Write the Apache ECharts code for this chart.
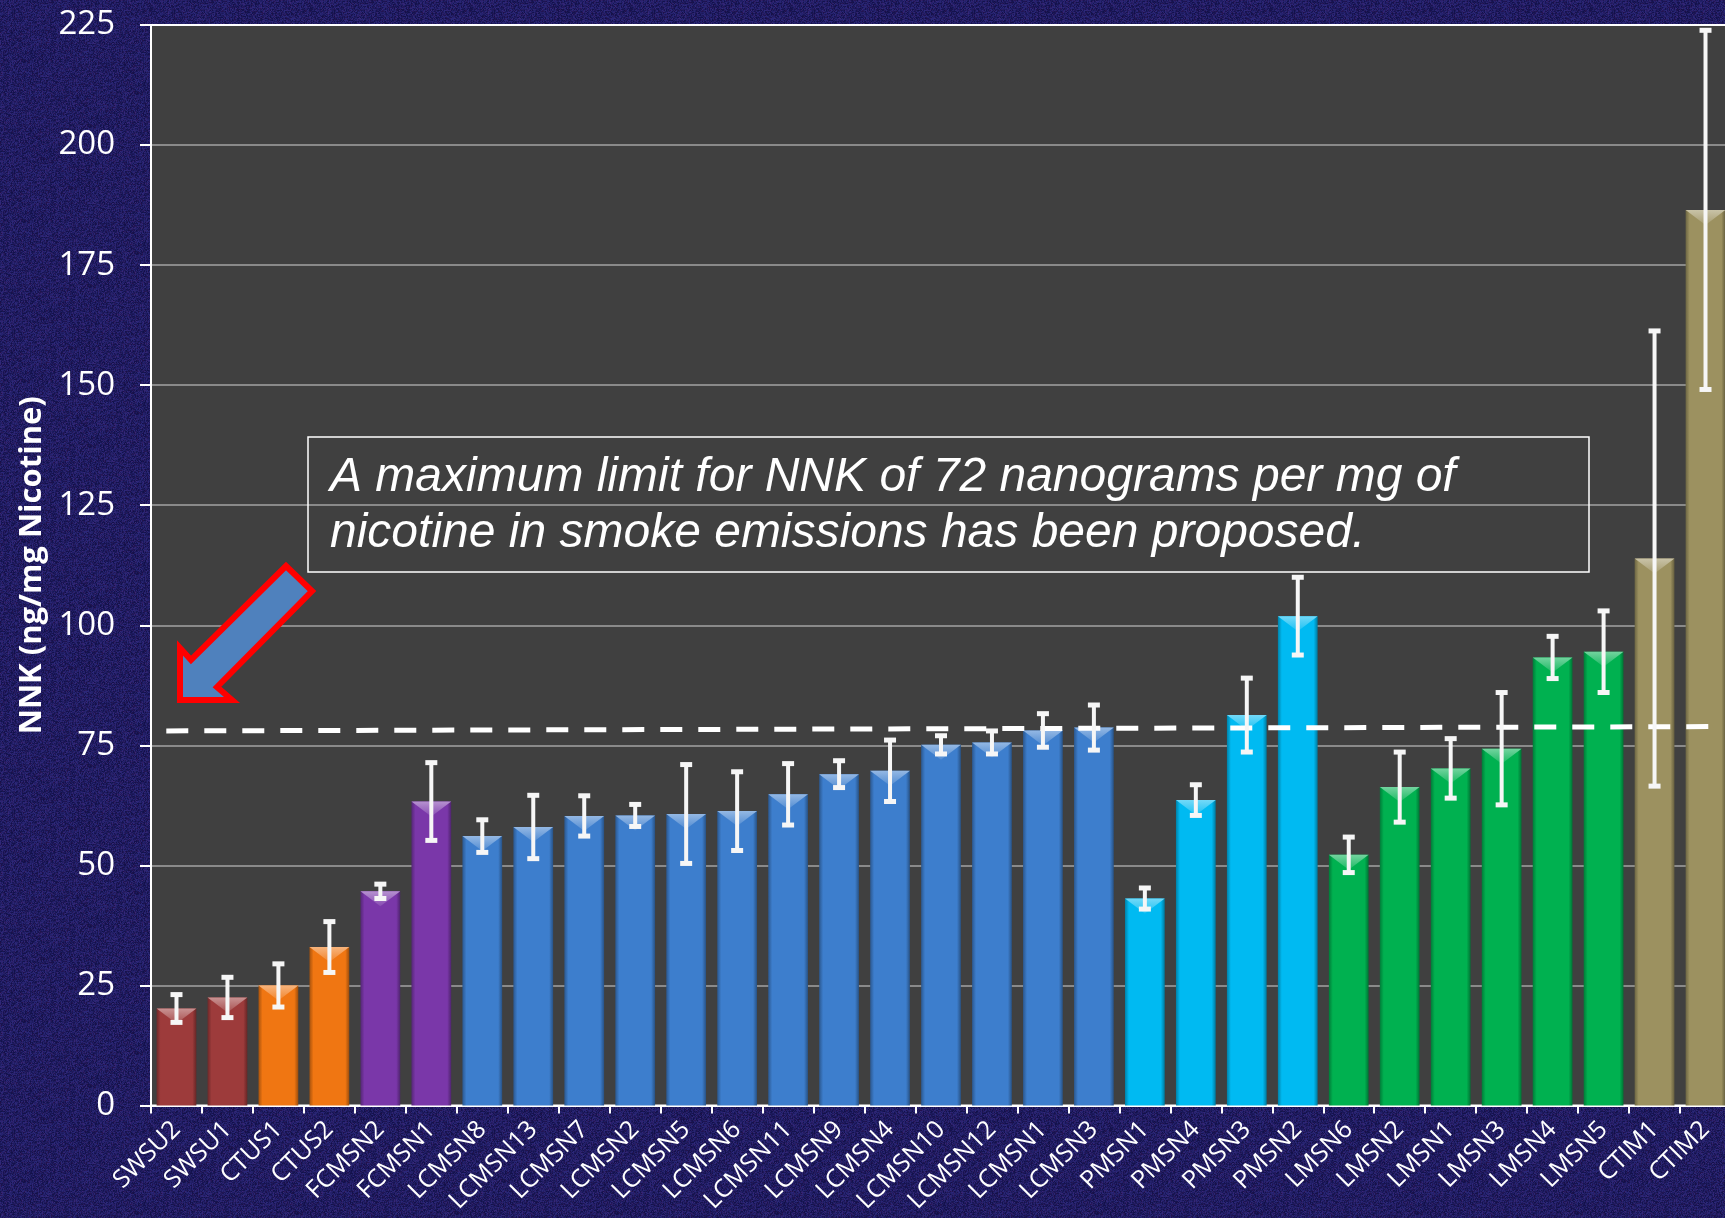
<!DOCTYPE html>
<html><head><meta charset="utf-8">
<script src="https://cdn.jsdelivr.net/npm/echarts@6/dist/echarts.min.js"></script>
<style>html,body{margin:0;padding:0;background:#1b1a60;}#c{width:1725px;height:1218px;}</style>
</head><body><div id="c"></div>
<script>
const categories = ['SWSU2','SWSU1','CTUS1','CTUS2','FCMSN2','FCMSN1','LCMSN8','LCMSN13','LCMSN7','LCMSN2','LCMSN5','LCMSN6','LCMSN11','LCMSN9','LCMSN4','LCMSN10','LCMSN12','LCMSN1','LCMSN3','PMSN1','PMSN4','PMSN3','PMSN2','LMSN6','LMSN2','LMSN1','LMSN3','LMSN4','LMSN5','CTIM1','CTIM2'];
const values = [20.2, 22.5, 25.0, 33.0, 44.6, 63.3, 56.1, 58.0, 60.3, 60.4, 60.7, 61.3, 64.8, 69.0, 69.7, 75.1, 75.6, 78.1, 78.7, 43.1, 63.6, 81.3, 101.9, 52.2, 66.3, 70.2, 74.3, 93.3, 94.5, 113.9, 186.5];
const errors = [3.0, 4.3, 4.6, 5.4, 1.6, 8.2, 3.5, 6.7, 4.3, 2.4, 10.4, 8.3, 6.5, 2.9, 6.5, 2.0, 2.5, 3.6, 4.8, 2.3, 3.3, 7.8, 8.2, 3.8, 7.4, 6.3, 11.8, 4.5, 8.6, 47.5, 37.5];
const yMin = 0, yMax = 225, yStep = 25;
const limitX = [0.3, 30.6];      // position along the category run
const limitY = [78.0, 78.9];     // hand-drawn proposed-limit line
const noteLines = ['A maximum limit for NNK of 72 nanograms per mg of', 'nicotine in smoke emissions has been proposed.'];
const yTitle = 'NNK (ng/mg Nicotine)';

const groupColors = {SWSU:'#9d3b3b', CTUS:'#f07612', FCMSN:'#7a37a9', LCMSN:'#3d7ecd', PMSN:'#00baf2', LMSN:'#00b150', CTIM:'#9c9160'};
const groupOf = n => n.replace(/\d+$/, '');

function shade(hex, f) {
  const n = parseInt(hex.slice(1), 16);
  let r = n >> 16, g = (n >> 8) & 255, b = n & 255;
  const t = f < 0 ? 0 : 255, p = Math.abs(f);
  r = Math.round((t - r) * p + r); g = Math.round((t - g) * p + g); b = Math.round((t - b) * p + b);
  return 'rgb(' + r + ',' + g + ',' + b + ')';
}

// textured navy backdrop (decorative only)
(function () {
  const cv = document.createElement('canvas'); cv.width = 160; cv.height = 160;
  const ctx = cv.getContext('2d'); const img = ctx.createImageData(160, 160);
  let s = 12345;
  const rnd = () => { s = (s * 1103515245 + 12345) & 0x7fffffff; return s / 0x7fffffff; };
  for (let i = 0; i < 160 * 160; i++) {
    const k = rnd(), h = rnd();
    img.data[i * 4] = 18 + k * 26 + (h > 0.8 ? 12 : 0);
    img.data[i * 4 + 1] = 16 + k * 24;
    img.data[i * 4 + 2] = 72 + k * 50;
    img.data[i * 4 + 3] = 255;
  }
  ctx.putImageData(img, 0, 0);
  document.getElementById('c').style.background = 'url(' + cv.toDataURL() + ')';
})();

const chart = echarts.init(document.getElementById('c'), null, {renderer: 'canvas'});
const gridBox = {left: 151, top: 25, width: 1580, height: 1080.5};
const barFrac = 0.78;

const barData = values.map((v, i) => {
  const c = groupColors[groupOf(categories[i])];
  return {
    value: v,
    itemStyle: {
      color: new echarts.graphic.LinearGradient(0, 0, 1, 0, [
        {offset: 0, color: shade(c, -0.3)},
        {offset: 0.1, color: c},
        {offset: 0.9, color: c},
        {offset: 1, color: shade(c, -0.35)}
      ])
    }
  };
});
const errData = values.map((v, i) => [i, v, errors[i]]);

const option = {
  backgroundColor: 'transparent',
  animation: false,
  grid: Object.assign({show: true, backgroundColor: '#404040', borderColor: '#ffffff', borderWidth: 2,
    containLabel: false, outerBoundsMode: 'none'}, gridBox),
  xAxis: [{
    type: 'category', data: categories,
    axisLine: {lineStyle: {color: '#ffffff', width: 2}},
    axisTick: {show: true, length: 8, lineStyle: {color: '#ffffff', width: 2}},
    axisLabel: {interval: 0, rotate: 45, color: '#ffffff', fontSize: 25, fontFamily: 'Open Sans', margin: 20}
  }, {
    type: 'value', min: 0, max: categories.length, show: false
  }],
  yAxis: {
    type: 'value', min: yMin, max: yMax, interval: yStep,
    name: yTitle, nameLocation: 'middle', nameRotate: 90, nameGap: 101,
    nameTextStyle: {color: '#ffffff', fontSize: 31, fontWeight: 'bold', fontFamily: 'Open Sans'},
    axisLine: {show: true, lineStyle: {color: '#ffffff', width: 2}},
    axisTick: {show: true, length: 11, lineStyle: {color: '#ffffff', width: 2}},
    axisLabel: {color: '#ffffff', fontSize: 33, fontFamily: 'Open Sans', margin: 36},
    splitLine: {show: true, lineStyle: {color: ['#8a8a8a','#8a8a8a','#8a8a8a','#8a8a8a','#8a8a8a','#8a8a8a','#8a8a8a','#8a8a8a','#8a8a8a','#ffffff'], width: 2}}
  },
  series: [{
    type: 'bar', data: barData, barWidth: (barFrac * 100) + '%', z: 2
  }, {
    type: 'custom', data: errData, z: 3, xAxisIndex: 0,
    renderItem: function (params, api) {
      const idx = api.value(0), v = api.value(1);
      const top = api.coord([idx, v]);
      const bw = api.size([1, 0])[0] * barFrac;
      const c = groupColors[groupOf(categories[idx])];
      return {
        type: 'polygon',
        shape: {points: [[top[0] - bw / 2, top[1]], [top[0] + bw / 2, top[1]], [top[0], top[1] + 15]]},
        style: {fill: new echarts.graphic.LinearGradient(0, 0, 0, 1, [
          {offset: 0, color: shade(c, 0.45)}, {offset: 1, color: shade(c, 0.1)}])}
      };
    }
  }, {
    type: 'line', xAxisIndex: 1, z: 4, symbol: 'none',
    data: limitX.map((x, i) => [x, limitY[i]]),
    lineStyle: {color: '#ffffff', width: 5, type: [22, 16]}
  }, {
    type: 'custom', data: errData, z: 5, xAxisIndex: 0,
    renderItem: function (params, api) {
      const idx = api.value(0), v = api.value(1), e = api.value(2);
      const hi = api.coord([idx, v + e]);
      const lo = api.coord([idx, v - e]);
      const st = {fill: '#f6f6f6'};
      return {
        type: 'group',
        children: [
          {type: 'rect', shape: {x: hi[0] - 2, y: hi[1], width: 4, height: lo[1] - hi[1]}, style: st},
          {type: 'rect', shape: {x: hi[0] - 6, y: hi[1] - 2, width: 12, height: 5}, style: st},
          {type: 'rect', shape: {x: lo[0] - 6, y: lo[1] - 3, width: 12, height: 5}, style: st}
        ]
      };
    }
  }],
  graphic: [
    {type: 'rect', z: 10, shape: {x: 308, y: 437, width: 1281, height: 135},
     style: {fill: 'rgba(0,0,0,0)', stroke: '#ffffff', lineWidth: 1.5}},
    {type: 'text', z: 11, x: 330, y: 478, style: {text: noteLines[0], fill: '#ffffff',
     font: 'italic 48px "Liberation Sans", Arial, sans-serif', verticalAlign: 'middle'}},
    {type: 'text', z: 11, x: 330, y: 534, style: {text: noteLines[1], fill: '#ffffff',
     font: 'italic 48px "Liberation Sans", Arial, sans-serif', verticalAlign: 'middle'}},
    {type: 'polygon', z: 10, shape: {points: [[286, 566], [312, 591], [217, 687], [232, 700], [180, 700], [180, 648], [191, 660]]},
     style: {fill: '#4f81bd', stroke: '#ff0000', lineWidth: 6, lineJoin: 'miter'}}
  ]
};
chart.setOption(option);
</script>
</body></html>
